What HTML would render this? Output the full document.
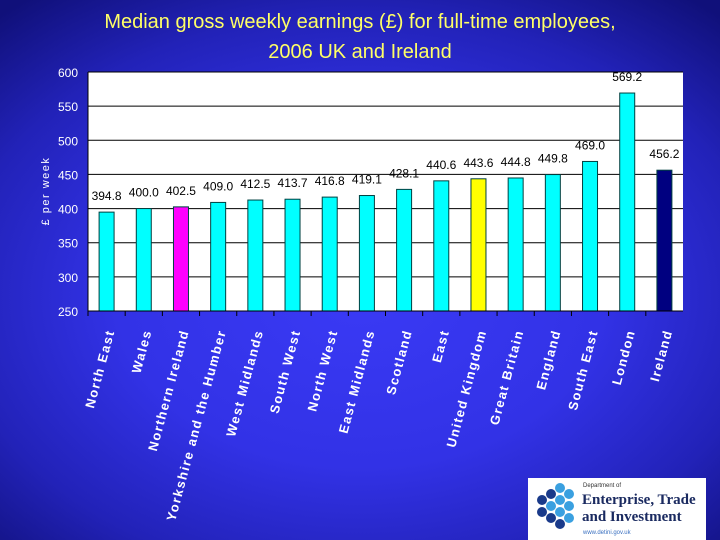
<!DOCTYPE html>
<html><head><meta charset="utf-8"><style>
body{margin:0;width:720px;height:540px;overflow:hidden;font-family:"Liberation Sans",sans-serif}
#bg{position:absolute;left:0;top:0;width:720px;height:540px;background:radial-gradient(ellipse 75% 70% at 50% 55%,#3a3af5 0%,#3232e6 45%,#2222b8 75%,#10107a 100%)}
</style></head><body>
<div id="bg"></div>
<svg width="720" height="540" style="position:absolute;left:0;top:0">
<text x="360" y="28" font-size="20" fill="#ffff66" text-anchor="middle">Median gross weekly earnings (£) for full-time employees,</text>
<text x="360" y="58" font-size="20" fill="#ffff66" text-anchor="middle">2006 UK and Ireland</text>
<g id="g"></g>
<g>
<rect x="528" y="478" width="178" height="62" fill="#fff"/>
<g fill="#1a3a8a"><circle cx="542" cy="500" r="5"/><circle cx="542" cy="512" r="5"/><circle cx="551" cy="494" r="5"/><circle cx="551" cy="518" r="5"/><circle cx="560" cy="524" r="5"/></g>
<g fill="#3aa0e0"><circle cx="560" cy="488" r="5"/><circle cx="569" cy="494" r="5"/><circle cx="560" cy="500" r="5"/><circle cx="569" cy="506" r="5"/><circle cx="551" cy="506" r="5"/><circle cx="560" cy="512" r="5"/><circle cx="569" cy="518" r="5"/></g>
<text x="583" y="487" font-size="6" fill="#333">Department of</text>
<text x="582" y="504" font-size="15" font-family="Liberation Serif" font-weight="bold" fill="#1a2a60">Enterprise, Trade</text>
<text x="582" y="521" font-size="15" font-family="Liberation Serif" font-weight="bold" fill="#1a2a60">and Investment</text>
<text x="583" y="534" font-size="6" fill="#3a70c0">www.detini.gov.uk</text>
</g>
</svg>
<script>
const categories=["North East","Wales","Northern Ireland","Yorkshire and the Humber","West Midlands","South West","North West","East Midlands","Scotland","East","United Kingdom","Great Britain","England","South East","London","Ireland"];
const values=[394.8,400.0,402.5,409.0,412.5,413.7,416.8,419.1,428.1,440.6,443.6,444.8,449.8,469.0,569.2,456.2];
const colors=["#00ffff","#00ffff","#ff00ff","#00ffff","#00ffff","#00ffff","#00ffff","#00ffff","#00ffff","#00ffff","#ffff00","#00ffff","#00ffff","#00ffff","#00ffff","#000080"];
const ticks=[250,300,350,400,450,500,550,600];
const NS="http://www.w3.org/2000/svg",g=document.getElementById('g');
const L=88,R=683,T=72,B=311,bw=(R-L)/categories.length;
const y=v=>B-(v-250)/350*(B-T);
function mk(t,a,p){const e=document.createElementNS(NS,t);for(const k in a)e.setAttribute(k,a[k]);(p||g).appendChild(e);return e;}
const pa=mk('rect',{x:L,y:T,width:R-L,height:B-T,fill:'#fff'});


ticks.forEach(t=>{
 const ln=mk('line',{x1:L,x2:R,y1:y(t),y2:y(t),stroke:'#000','stroke-width':1});
 
 
 const tx=mk('text',{x:L-10,y:y(t)+5,'font-size':12,fill:'#fff','text-anchor':'end'});tx.textContent=t;
 
 
});
const yt=mk('text',{transform:'translate(49,191) rotate(-90)','font-size':11,fill:'#fff','text-anchor':'middle','letter-spacing':'1.5'});yt.textContent='£ per week';


categories.forEach((c,i)=>{
 const cx=L+bw*(i+0.5);
 mk('line',{x1:L+bw*i,x2:L+bw*i,y1:B,y2:B+5,stroke:'#000'});
 const r=mk('rect',{x:cx-7.5,y:y(values[i]),width:15,height:B-y(values[i]),fill:colors[i],stroke:'#004040','stroke-width':1});
 
 
 const lb=mk('text',{x:cx,y:y(values[i])-12,'font-size':12,fill:'#000','text-anchor':'middle'});lb.textContent=values[i].toFixed(1);
 
 
 const cl=mk('text',{transform:`translate(${cx+8},${B+20}) rotate(-75)`,'font-size':13,'font-weight':'bold',fill:'#fff','text-anchor':'end','letter-spacing':'1.5'});cl.textContent=c;
 
 
});
mk('line',{x1:L,x2:L,y1:T,y2:B,stroke:'#000'});
mk('line',{x1:L,x2:R,y1:B,y2:B,stroke:'#000'});
</script>
</body></html>
